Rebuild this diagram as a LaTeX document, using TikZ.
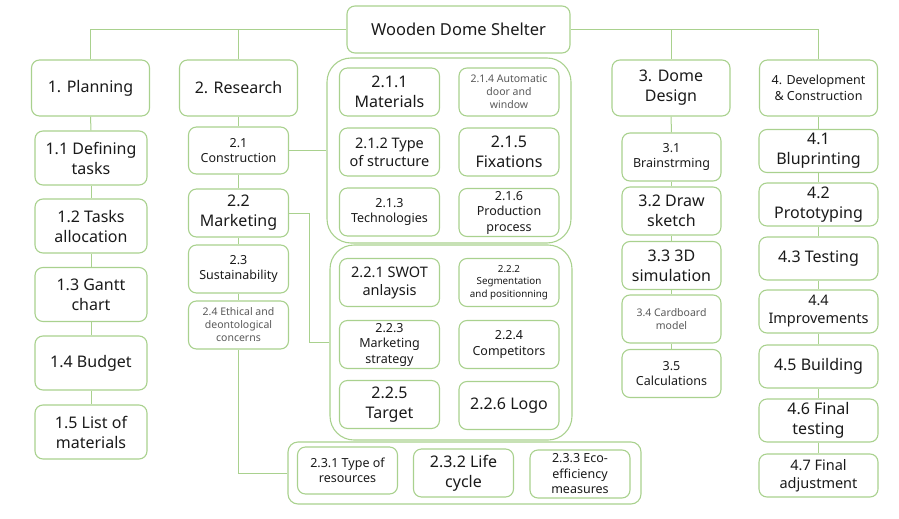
\documentclass[tikz,border=0pt]{standalone}
\usepackage{fontspec}
\setmainfont{Noto Sans}
\definecolor{leaf}{HTML}{A9D18E}
\definecolor{ink}{HTML}{1A1A1A}
\definecolor{dim}{HTML}{595959}
\newcommand{\fbig}{\fontsize{16}{20}\selectfont}
\newcommand{\fmed}{\fontsize{14.5}{18}\selectfont}
\newcommand{\fsm}{\fontsize{12.5}{15.5}\selectfont}
\newcommand{\ftiny}{\fontsize{10.5}{13}\selectfont}
\begin{document}
\begin{tikzpicture}[x=1pt,y=-1pt,
	boxbase/.style={draw=leaf, line width=1.1pt, rounded corners=8pt, align=center, text=ink, inner sep=1pt},
	headbox/.style={boxbase, minimum width=118pt, minimum height=56pt},
	planbox/.style={boxbase, minimum width=112pt, minimum height=54pt, font=\fbig},
	subbox/.style={boxbase, minimum width=100pt, minimum height=48pt},
	devbox/.style={boxbase, minimum width=119pt, minimum height=43pt},
	groupbox/.style={draw=leaf, line width=1.1pt, rounded corners=24pt},
	link/.style={draw=leaf, line width=1pt}]
	\useasboundingbox (0,0) rectangle (899,519);

	% top level
	\node [headbox, minimum width=223pt, minimum height=47pt, font=\fontsize{16.5}{20}\selectfont] (root) at (458.5,29.5) {Wooden Dome Shelter};
	\node [headbox, font=\fbig] (plan) at (90.5,88) {1. Planning};
	\node [headbox, font=\fbig] (res) at (238.5,88) {2. Research};
	\node [headbox, font=\fbig] (dome) at (671,88) {3. Dome\\Design};
	\node [headbox, font=\fsm] (dev) at (818.5,88) {4. Development\\\& Construction};

	% planning
	\node [planbox] (p11) at (91,158) {1.1 Defining\\tasks};
	\node [planbox] (p12) at (91,226) {1.2 Tasks\\allocation};
	\node [planbox] (p13) at (91,294.5) {1.3 Gantt\\chart};
	\node [planbox] (p14) at (91,363) {1.4 Budget};
	\node [planbox] (p15) at (91,432) {1.5 List of\\materials};

	% research
	\node [subbox, minimum height=47pt, font=\fsm] (r21) at (238.5,150.5) {2.1\\Construction};
	\node [subbox, font=\fbig] (r22) at (238.5,213) {2.2\\Marketing};
	\node [subbox, font=\fsm] (r23) at (238.5,269) {2.3\\Sustainability};
	\node [subbox, font=\ftiny, text=dim] (r24) at (238.5,325) {2.4 Ethical and\\deontological\\concerns};

	% 2.1 group
	\node [groupbox, minimum width=244pt, minimum height=185pt] (g21) at (449,150.5) {};
	\node [subbox, font=\fbig] (m211) at (389.5,92) {2.1.1\\Materials};
	\node [subbox, font=\fmed] (m212) at (389.5,152) {2.1.2 Type\\of structure};
	\node [subbox, font=\fsm] (m213) at (389.5,212) {2.1.3\\Technologies};
	\node [subbox, font=\ftiny, text=dim] (m214) at (509,92) {2.1.4 Automatic\\door and\\window};
	\node [subbox, font=\fbig] (m215) at (509,152) {2.1.5\\Fixations};
	\node [subbox, font=\fsm] (m216) at (509,212.5) {2.1.6\\Production\\process};

	% 2.2 group
	\node [groupbox, minimum width=242pt, minimum height=195pt] (g22) at (451,342.5) {};
	\node [subbox, font=\fmed] (k221) at (389.5,282.5) {2.2.1 SWOT\\anlaysis};
	\node [subbox, font=\fsm] (k223) at (389.5,344.5) {2.2.3\\Marketing\\strategy};
	\node [subbox, font=\fbig] (k225) at (389.5,404.5) {2.2.5\\Target};
	\node [subbox, font=\fontsize{9.8}{12.5}\selectfont] (k222) at (509,282.5) {2.2.2\\Segmentation\\and positionning};
	\node [subbox, font=\fsm] (k224) at (509,344.5) {2.2.4\\Competitors};
	\node [subbox, font=\fbig] (k226) at (509,405.5) {2.2.6 Logo};

	% 2.3 group
	\node [groupbox, rounded corners=10pt, minimum width=353pt, minimum height=62pt] (g23) at (464.5,473) {};
	\node [subbox, minimum height=47pt, font=\fsm] (s231) at (347.5,470.5) {2.3.1 Type of\\resources};
	\node [subbox, font=\fbig] (s232) at (463.5,473) {2.3.2 Life\\cycle};
	\node [subbox, font=\fsm] (s233) at (580,474) {2.3.3 Eco-\\efficiency\\measures};

	% dome design
	\node [subbox, minimum width=99pt, font=\fsm] (d31) at (671.5,157) {3.1\\Brainstrming};
	\node [subbox, minimum width=99pt, font=\fbig] (d32) at (671.5,211) {3.2 Draw\\sketch};
	\node [subbox, minimum width=99pt, font=\fbig] (d33) at (671.5,265.5) {3.3 3D\\simulation};
	\node [subbox, minimum width=99pt, font=\ftiny, text=dim] (d34) at (671.5,319) {3.4 Cardboard\\model};
	\node [subbox, minimum width=99pt, font=\fsm] (d35) at (671.5,373.5) {3.5\\Calculations};

	% development
	\node [devbox, font=\fbig] (e41) at (818.5,151) {4.1\\Bluprinting};
	\node [devbox, font=\fbig] (e42) at (818.5,204.5) {4.2\\Prototyping};
	\node [devbox, font=\fbig] (e43) at (818.5,258.5) {4.3 Testing};
	\node [devbox, font=\fmed] (e44) at (818.5,311.5) {4.4\\Improvements};
	\node [devbox, font=\fbig] (e45) at (818.5,366.5) {4.5 Building};
	\node [devbox, font=\fbig] (e46) at (818.5,420.5) {4.6 Final\\testing};
	\node [devbox, font=\fmed] (e47) at (818.5,475.5) {4.7 Final\\adjustment};

	% connectors
	\draw [link] (root.west) -| (plan.north);
	\draw [link] (res.north) -- (res.north |- root.west);
	\draw [link] (root.east) -| (dev.north);
	\draw [link] (dome.north) -- (dome.north |- root.east);
	\foreach \a/\b in {plan/p11,p11/p12,p12/p13,p13/p14,p14/p15,
		res/r21,r21/r22,r22/r23,r23/r24,
		dome/d31,d31/d32,d32/d33,d33/d34,d34/d35,
		dev/e41,e41/e42,e42/e43,e43/e44,e44/e45,e45/e46,e46/e47}
		\draw [link] (\a.south) -- (\b.north);
	\draw [link] (r21.east) -- (r21.east -| g21.west);
	\draw [link] (r22.east) -- ++(20,0) |- (g22.west);
	\draw [link] (r24.south) |- (g23.west);
\end{tikzpicture}
\end{document}
